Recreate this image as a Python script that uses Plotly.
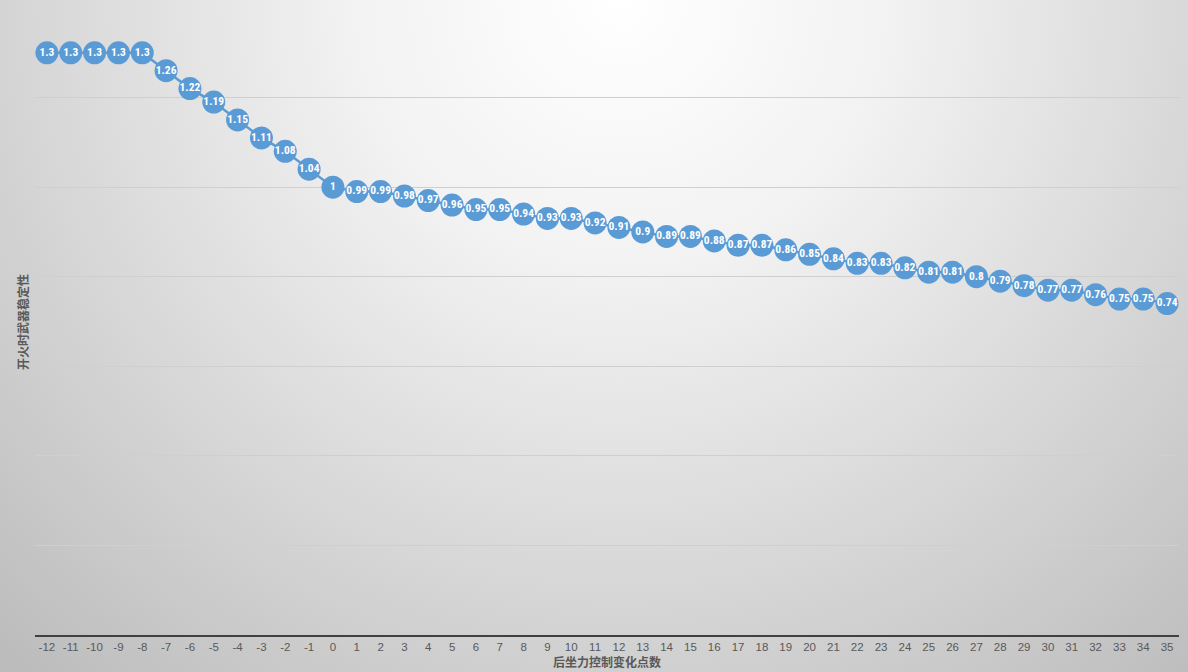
import base64
import plotly.graph_objects as go

categories = list(range(-12, 36))
values = [1.3, 1.3, 1.3, 1.3, 1.3, 1.26, 1.22, 1.19, 1.15, 1.11, 1.08, 1.04, 1,
          0.99, 0.99, 0.98, 0.97, 0.96, 0.95, 0.95, 0.94, 0.93, 0.93, 0.92, 0.91,
          0.9, 0.89, 0.89, 0.88, 0.87, 0.87, 0.86, 0.85, 0.84, 0.83, 0.83, 0.82,
          0.81, 0.81, 0.8, 0.79, 0.78, 0.77, 0.77, 0.76, 0.75, 0.75, 0.74]
labels = [f"{v:g}" for v in values]
x_title = "后坐力控制变化点数"
y_title = "开火时武器稳定性"

W, H = 1188, 672
L, R, T, B = 35, 9, 8, 37
PW, PH = W - L - R, H - T - B

svg = (
    f'<svg xmlns="http://www.w3.org/2000/svg" width="{W}" height="{H}">'
    '<defs><radialGradient id="g" cx="620" cy="0" r="900" gradientUnits="userSpaceOnUse">'
    '<stop offset="0" stop-color="#FFFFFF"/>'
    '<stop offset="0.3" stop-color="#F2F2F2"/>'
    '<stop offset="1" stop-color="#BCBCBC"/>'
    '</radialGradient></defs>'
    f'<rect width="{W}" height="{H}" fill="url(#g)"/></svg>'
)
bg = "data:image/svg+xml;base64," + base64.b64encode(svg.encode()).decode()

fig = go.Figure()
fig.add_trace(go.Scatter(
    x=categories, y=values, text=labels,
    mode="lines+markers+text",
    line=dict(color="#5B9BD5", width=2.5),
    marker=dict(color="#5B9BD5", size=23),
    textposition="middle center",
    textfont=dict(color="white", size=11.5, family="Liberation Sans Narrow, Roboto Condensed, Lato", weight="bold"),
    cliponaxis=False,
    hoverinfo="x+y",
))

fig.update_layout(
    width=W, height=H,
    margin=dict(l=L, r=R, t=T, b=B, autoexpand=False),
    paper_bgcolor="#D8D8D8",
    plot_bgcolor="rgba(0,0,0,0)",
    showlegend=False,
    images=[dict(source=bg, xref="paper", yref="paper", x=-L / PW, y=1 + T / PH,
                 sizex=W / PW, sizey=H / PH, xanchor="left", yanchor="top",
                 sizing="stretch", layer="below")],
    font=dict(family="Liberation Sans, Noto Sans CJK SC", color="#595959"),
    annotations=[
        dict(text=x_title, xref="paper", yref="paper", x=0.5, y=-27 / PH,
             xanchor="center", yanchor="middle", showarrow=False,
             font=dict(size=12, color="#595959", family="Noto Sans CJK SC", weight="bold")),
        dict(text=y_title, xref="paper", yref="paper", x=-2 / PW, y=0.5,
             xanchor="right", yanchor="middle", showarrow=False, textangle=-90,
             font=dict(size=12, color="#595959", family="Noto Sans CJK SC", weight="bold")),
    ],
)
fig.update_xaxes(
    range=[-12.5, 35.5], tickmode="array", tickvals=categories,
    ticktext=[str(c) for c in categories], automargin=False,
    showgrid=False, zeroline=False,
    showline=True, linecolor="#404040", linewidth=2,
    ticks="", tickfont=dict(size=11.5, color="#595959"),
)
fig.update_yaxes(
    range=[0, 1.4], dtick=0.2, showticklabels=False, automargin=False,
    showgrid=True, gridcolor="#CFCFCF", gridwidth=1, zeroline=False,
)

fig.write_html(
    "out.html",
    config={"displayModeBar": False},
    post_script="document.body.style.margin='0';document.body.style.overflow='hidden';",
)
